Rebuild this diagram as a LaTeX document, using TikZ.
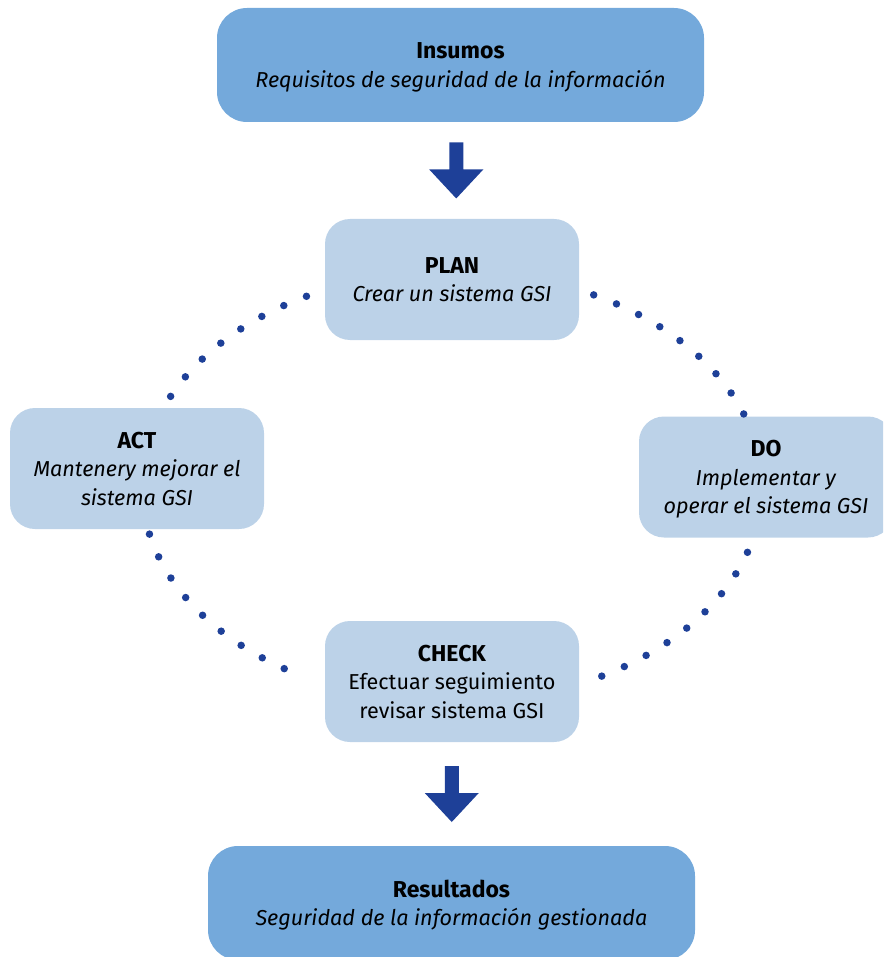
\documentclass[tikz,border=0pt]{standalone}
\usepackage{fontspec}
\setmainfont{Fira Sans}
\usetikzlibrary{calc}
\definecolor{outerbox}{RGB}{116,169,219}
\definecolor{innerbox}{RGB}{188,210,232}
\definecolor{navy}{RGB}{30,64,152}

% heading of a stage
\newcommand\stagetitle[1]{{\fontsize{23}{28.5}\selectfont\bfseries #1}}

% block arrow pointing down, centred on a named coordinate
\newcommand\downblock[1]{%
  \fill[navy] ($(#1)+(-7,-28)$) -- ++(14,0) -- ++(0,27) -- ++(20,0)
    -- ($(#1)+(0,28)$) -- ($(#1)+(-27,-1)$) -- ++(20,0) -- cycle;}

\begin{document}
\begin{tikzpicture}[x=1pt,y=-1pt,
  stage/.style={rounded corners=30pt, align=center, inner sep=0pt,
    text depth=0pt, font=\fontsize{21.6}{28.5}\selectfont},
  outerstage/.style={stage, fill=outerbox, minimum width=487pt, minimum height=114pt},
  innerstage/.style={stage, fill=innerbox, rounded corners=25pt,
    minimum width=254pt, minimum height=121pt},
  dotring/.style={draw=navy, line width=7.5pt, line cap=round,
    dash pattern=on 0pt off 24.5pt}]

\useasboundingbox (0,0) rectangle (883,957);
\clip (0,0) rectangle (883,957);

% stages
\node[outerstage] (insumos) at (460.5,65)
  {\stagetitle{Insumos}\\\textit{Requisitos de seguridad de la información}};
\node[innerstage] (plan) at (452,279.5)
  {\stagetitle{PLAN}\\\textit{Crear un sistema GSI}};
\node[innerstage] (act) at (137,468.5)
  {\stagetitle{ACT}\\\textit{Mantenery mejorar el}\\\textit{sistema GSI}};
\node[innerstage] (do) at (766,477)
  {\stagetitle{DO}\\\textit{Implementar y}\\\textit{operar el sistema GSI}};
\node[innerstage] (check) at (452,681.5)
  {\stagetitle{CHECK}\\Efectuar seguimiento\\revisar sistema GSI};
\node[outerstage] (resultados) at (451.5,903)
  {\stagetitle{Resultados}\\\textit{Seguridad de la información gestionada}};

% input and output arrows
\path (insumos.south) -- (plan.north) coordinate[pos=0.5] (inarrow);
\path (check.south) -- (resultados.north) coordinate[pos=0.5] (outarrow);
\downblock{inarrow}
\downblock{outarrow}

% dotted cycle linking the four stages
\coordinate (ring) at (452,487);
\draw[dotring] (ring) ++(-118:310 and 216)
  arc[start angle=-118, end angle=-157, x radius=310, y radius=216];
\draw[dotring] (ring) ++(-62.8:310 and 216)
  arc[start angle=-62.8, end angle=-18, x radius=310, y radius=216];
\draw[dotring] (ring) ++(17.6:310 and 216)
  arc[start angle=17.6, end angle=64, x radius=310, y radius=216];
\draw[dotring] (ring) ++(167.4:310 and 216)
  arc[start angle=167.4, end angle=121, x radius=310, y radius=216];
\end{tikzpicture}
\end{document}
